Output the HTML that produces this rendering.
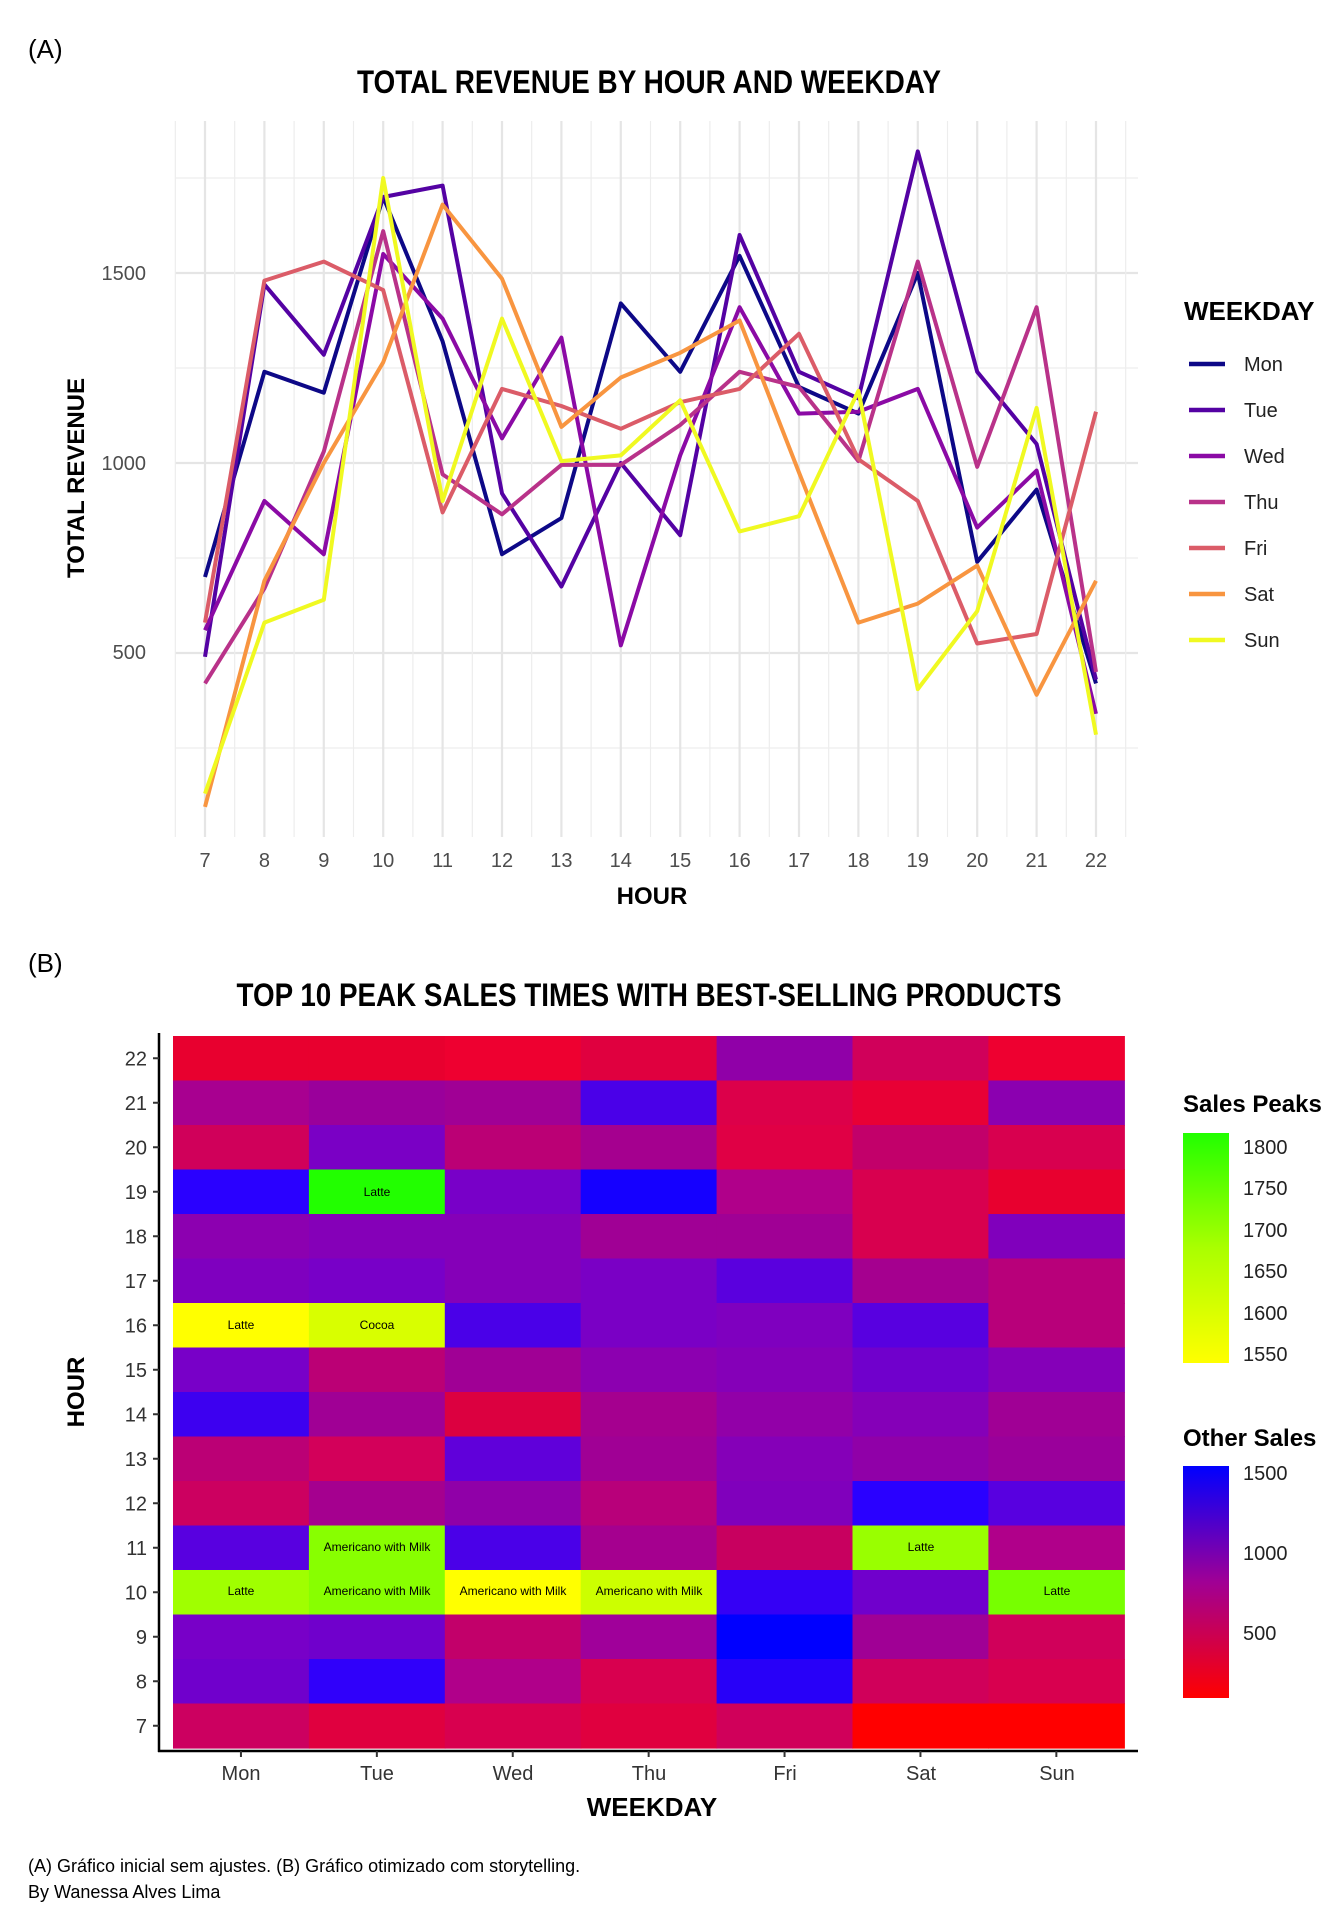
<!DOCTYPE html>
<html><head><meta charset="utf-8"><style>
html,body{margin:0;padding:0;background:#fff}
svg text{font-family:"Liberation Sans Narrow","Liberation Sans",sans-serif}
</style></head><body>
<svg id="s" width="1344" height="1920" viewBox="0 0 1344 1920" xmlns="http://www.w3.org/2000/svg">
<rect width="1344" height="1920" fill="#fff"/>
<g id="grid"></g>
<g id="lines" fill="none" stroke-width="4" stroke-linejoin="round"></g>
<text x="28" y="58" font-size="26">(A)</text>
<text x="649" y="93" font-size="32" font-weight="bold" text-anchor="middle" textLength="584" lengthAdjust="spacingAndGlyphs">TOTAL REVENUE BY HOUR AND WEEKDAY</text>
<g font-size="20" fill="#4d4d4d" text-anchor="end">
<text x="146" y="280">1500</text><text x="146" y="470">1000</text><text x="146" y="659">500</text>
</g>
<g id="xt" font-size="20" fill="#4d4d4d" text-anchor="middle"></g>
<text x="652" y="904" font-size="24" font-weight="bold" text-anchor="middle">HOUR</text>
<text transform="translate(84,478) rotate(-90)" font-size="24" font-weight="bold" text-anchor="middle">TOTAL REVENUE</text>
<text x="1184" y="320" font-size="26" font-weight="bold">WEEKDAY</text>
<g id="leg" font-size="20" fill="#222"></g>

<text x="28" y="972" font-size="26">(B)</text>
<text x="649" y="1006" font-size="32" font-weight="bold" text-anchor="middle" textLength="825" lengthAdjust="spacingAndGlyphs">TOP 10 PEAK SALES TIMES WITH BEST-SELLING PRODUCTS</text>
<g id="heat"></g>
<g font-size="12" text-anchor="middle" fill="#000">
<text x="377" y="1196">Latte</text>
<text x="241" y="1329">Latte</text>
<text x="377" y="1329">Cocoa</text>
<text x="377" y="1551">Americano with Milk</text>
<text x="921" y="1551">Latte</text>
<text x="241" y="1595">Latte</text>
<text x="377" y="1595">Americano with Milk</text>
<text x="513" y="1595">Americano with Milk</text>
<text x="649" y="1595">Americano with Milk</text>
<text x="1057" y="1595">Latte</text>
</g>
<line x1="159" y1="1033" x2="159" y2="1752" stroke="#000" stroke-width="2.5"/>
<line x1="158" y1="1751" x2="1138" y2="1751" stroke="#000" stroke-width="2.5"/>
<g id="yt" font-size="20" fill="#333" text-anchor="end"></g>
<g font-size="20" fill="#333" text-anchor="middle">
<text x="241" y="1780">Mon</text><text x="377" y="1780">Tue</text><text x="513" y="1780">Wed</text><text x="649" y="1780">Thu</text><text x="785" y="1780">Fri</text><text x="921" y="1780">Sat</text><text x="1057" y="1780">Sun</text>
</g>
<text x="652" y="1816" font-size="26" font-weight="bold" text-anchor="middle">WEEKDAY</text>
<text transform="translate(84,1392) rotate(-90)" font-size="24" font-weight="bold" text-anchor="middle">HOUR</text>

<defs>
<linearGradient id="gp" x1="0" y1="1" x2="0" y2="0"><stop offset="0" stop-color="#ffff00"/><stop offset="0.5" stop-color="#aaff00"/><stop offset="1" stop-color="#22ff00"/></linearGradient>
<linearGradient id="go" x1="0" y1="1" x2="0" y2="0"><stop offset="0" stop-color="#ff0000"/><stop offset="0.5" stop-color="#a00095"/><stop offset="1" stop-color="#0000ff"/></linearGradient>
</defs>
<text x="1183" y="1112" font-size="24" font-weight="bold">Sales Peaks</text>
<rect x="1183" y="1133" width="46" height="230" fill="url(#gp)"/>
<g font-size="20" fill="#222">
<text x="1243" y="1154">1800</text><text x="1243" y="1195">1750</text><text x="1243" y="1237">1700</text><text x="1243" y="1278">1650</text><text x="1243" y="1320">1600</text><text x="1243" y="1361">1550</text>
</g>
<text x="1183" y="1446" font-size="24" font-weight="bold">Other Sales</text>
<rect x="1183" y="1466" width="46" height="232" fill="url(#go)"/>
<g font-size="20" fill="#222">
<text x="1243" y="1480">1500</text><text x="1243" y="1560">1000</text><text x="1243" y="1640">500</text>
</g>
<text x="28" y="1872" font-size="18">(A) Gráfico inicial sem ajustes. (B) Gráfico otimizado com storytelling.</text>
<text x="28" y="1898" font-size="18">By Wanessa Alves Lima</text>
</svg>
<script>
var NS="http://www.w3.org/2000/svg";
function el(p,t,a,txt){var e=document.createElementNS(NS,t);for(var k in a)e.setAttribute(k,a[k]);if(txt)e.textContent=txt;document.getElementById(p).appendChild(e);return e;}
function X(h){return 205+(h-7)*59.4;}
function Y(v){return 463-(v-1000)*0.38;}
[250,750,1250,1750].forEach(function(v){el("grid","line",{x1:175,x2:1138,y1:Y(v),y2:Y(v),stroke:"#ededed","stroke-width":1.2});});
[500,1000,1500].forEach(function(v){el("grid","line",{x1:175,x2:1138,y1:Y(v),y2:Y(v),stroke:"#e5e5e5","stroke-width":2.2});});
for(var h=6.5;h<=22.5;h+=1)el("grid","line",{x1:X(h),x2:X(h),y1:121,y2:837,stroke:"#ededed","stroke-width":1.2});
for(var h=7;h<=22;h++){el("grid","line",{x1:X(h),x2:X(h),y1:121,y2:837,stroke:"#e5e5e5","stroke-width":2.2});el("xt","text",{x:X(h),y:867},""+h);}
var S=[
["Mon","#0d0887",[700,1240,1185,1700,1320,760,855,1420,1240,1545,1200,1130,1500,740,930,420]],
["Tue","#5402a3",[490,1470,1285,1700,1730,920,675,1000,810,1600,1240,1170,1820,1240,1050,430]],
["Wed","#8b0aa5",[560,900,760,1550,1380,1065,1330,520,1020,1410,1130,1135,1195,830,980,340]],
["Thu","#b93289",[420,670,1030,1610,970,865,995,995,1100,1240,1200,1005,1530,990,1410,450]],
["Fri","#db5c68",[580,1480,1530,1455,870,1195,1150,1090,1160,1195,1340,1010,900,525,550,1135]],
["Sat","#f89540",[95,690,1000,1265,1680,1485,1095,1225,1290,1375,975,580,630,730,390,690]],
["Sun","#f0f921",[130,580,640,1750,900,1380,1005,1020,1165,820,860,1190,405,610,1145,285]]];
S.forEach(function(s,i){var p=s[2].map(function(v,j){return X(7+j).toFixed(1)+","+Y(v).toFixed(1);}).join(" ");
el("lines","polyline",{points:p,stroke:s[1]});
var y=364+i*46;el("leg","line",{x1:1189,x2:1225,y1:y,y2:y,stroke:s[1],"stroke-width":4.5});
el("leg","text",{x:1244,y:y+7},s[0]);});
var C=[
["#e8002f","#e8002f","#ee0030","#e0003f","#9000a8","#d0005a","#ee0030"],
["#a80090","#9a009b","#a00095","#4a00e8","#dc004a","#e80035","#8b00b0"],
["#d0005a","#7a00c5","#bb0075","#a5008f","#e00045","#c2006a","#d8004f"],
["#2a00ff","#22ff00","#7800c8","#1500ff","#b0008a","#d8004f","#e8002f"],
["#8c00b0","#8500b8","#8500b8","#a00095","#a00095","#d8004f","#8000bc"],
["#7f00bf","#7800c8","#8500b8","#7a00c5","#5a00de","#a5008f","#b8007a"],
["#ffff00","#d8ff00","#4a00e8","#7a00c5","#7f00bf","#5800e0","#b8007a"],
["#7800c8","#bb0075","#a00095","#8c00b0","#8500b8","#7000cc","#8500b8"],
["#3d00f0","#a00095","#dc0040","#a5008f","#9200a8","#8500b8","#a00095"],
["#bb0075","#d3005a","#6000da","#a00095","#8500b8","#9000a8","#9a009b"],
["#cc0060","#a5008f","#9000a8","#b8007a","#8000bc","#2a00ff","#5800e0"],
["#5800e0","#88ff00","#4a00e8","#a5008f","#c8005f","#99ff00","#b0008a"],
["#a0ff00","#88ff00","#ffff00","#ccff00","#3500f5","#7000cc","#77ff00"],
["#7800c8","#7000cc","#c2006a","#a0009a","#0000ff","#a00095","#d0005a"],
["#7000cc","#3000fa","#b0008a","#d8004f","#2800f8","#d0005a","#d8004f"],
["#cc0060","#e0003f","#d8004f","#e0003f","#d0005a","#ff0000","#ff0000"]];
var cw=135.9,rh=44.5;
C.forEach(function(r,ri){r.forEach(function(c,ci){el("heat","rect",{x:(173+ci*cw).toFixed(1),y:(1036+ri*rh).toFixed(1),width:(cw+0.6).toFixed(1),height:(rh+0.6).toFixed(1),fill:c});});
var hr=22-ri,yc=1036+ri*rh+rh/2;el("yt","text",{x:147,y:yc+7},""+hr);el("yt","line",{x1:153,x2:159,y1:yc,y2:yc,stroke:"#333","stroke-width":2});});
for(var i=0;i<7;i++)el("yt","line",{x1:173+(i+0.5)*cw,x2:173+(i+0.5)*cw,y1:1751,y2:1757,stroke:"#333","stroke-width":2});
</script>
</body></html>
